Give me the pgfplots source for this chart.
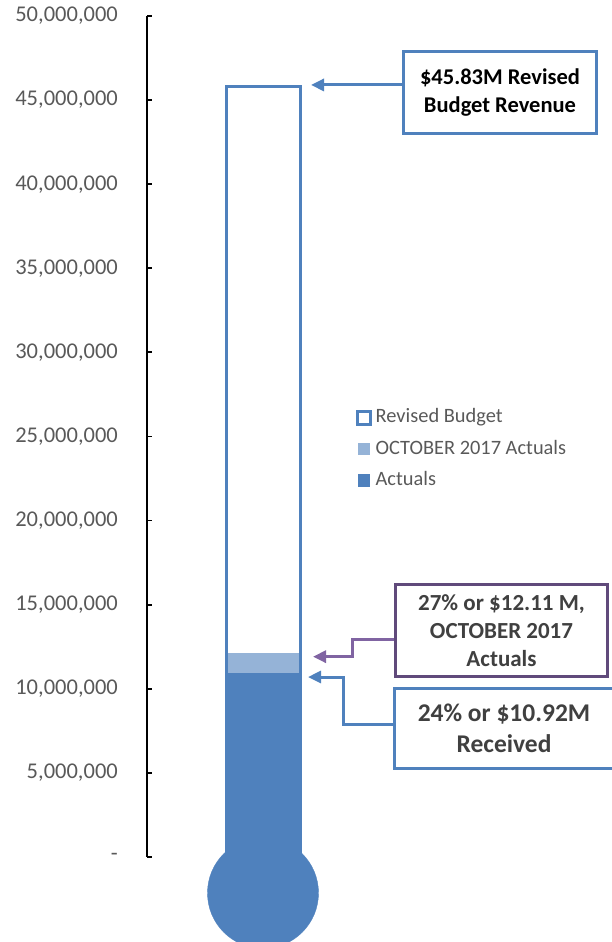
\documentclass[border=0pt]{standalone}
\usepackage{fontspec}
\setmainfont{Carlito}
\usepackage{pgfplots}
\pgfplotsset{compat=1.18}
\usetikzlibrary{arrows.meta}
\definecolor{barblue}{HTML}{4F81BD}
\definecolor{lightblue}{HTML}{95B3D7}
\definecolor{purpleline}{HTML}{8064A2}
\definecolor{purplebox}{HTML}{604A7B}
\definecolor{ticktext}{HTML}{595959}
\definecolor{boxtext}{HTML}{404040}

\begin{document}
\begin{tikzpicture}[x=1pt,y=1pt]
\begin{axis}[
  at={(147pt,85pt)}, anchor=south west,
  scale only axis, width=464pt, height=841pt,
  xmin=-116, xmax=348, ymin=0, ymax=50000000,
  axis x line=none, axis y line*=left,
  y axis line style={black, line width=1.8pt},
  xtick=\empty,
  ytick={0,5000000,10000000,15000000,20000000,25000000,30000000,35000000,40000000,45000000,50000000},
  yticklabels={{-\hspace{12pt}},{5,000,000},{10,000,000},{15,000,000},{20,000,000},{25,000,000},{30,000,000},{35,000,000},{40,000,000},{45,000,000},{50,000,000}},
  tick align=inside, major tick length=5pt,
  tick style={black, line width=1.8pt},
  yticklabel style={font=\fontsize{22.5}{27}\selectfont, text=ticktext, anchor=east, inner sep=0pt, xshift=-29pt},
  clip=false,
  legend style={at={(axis description cs:0.4504,0.533)}, anchor=north west,
    draw=none, fill=none, inner sep=0pt, row sep=12.2pt,
    font=\fontsize{20.4}{24}\selectfont, text=ticktext,
    nodes={inner sep=0pt, text height=14pt, text depth=5pt}},
  legend cell align=left,
]
% thermometer bars, overlaid at one position
\addplot[ybar, bar width=74pt, bar shift=0pt, fill=white, draw=barblue, line width=3pt,
  legend image code/.code={\draw[draw=barblue, fill=white, line width=2.6pt] (1.3pt,-6.3pt) rectangle (14.5pt,6.9pt); \path (18pt,0pt);}]
  coordinates {(0,45830000)};
\addplot[ybar, bar width=71pt, bar shift=0pt, fill=lightblue, draw=none,
  legend image code/.code={\fill[lightblue] (2pt,-5.8pt) rectangle (14pt,6.6pt); \path (18pt,0pt);}]
  coordinates {(0,12110000)};
\addplot[ybar, bar width=74pt, bar shift=0pt, fill=barblue, draw=none,
  legend image code/.code={\fill[barblue] (2pt,-5.8pt) rectangle (14pt,6.6pt); \path (18pt,0pt);}]
  coordinates {(0,10920000)};
% bulb
\addplot[forget plot, only marks, mark=*, mark size=55.5pt, mark options={draw=barblue, fill=barblue}]
  coordinates {(0,-2140000)};
\legend{Revised Budget, OCTOBER 2017 Actuals, Actuals}

% callouts
\draw[barblue, line width=3pt, -{Triangle[length=13pt,width=12pt]}]
  (axis cs:139,45900000) -- (axis cs:48,45900000);
\node[draw=barblue, line width=3pt, fill=white, minimum width=193pt, minimum height=82pt,
  inner sep=0pt, align=center, font=\bfseries\fontsize{22.5}{27.5}\selectfont]
  at (axis cs:237,45450000) {\raisebox{-2pt}{\$45.83M Revised}\\\raisebox{-2pt}{Budget Revenue}};

\draw[purpleline, line width=3pt, -{Triangle[length=13pt,width=12pt]}]
  (axis cs:131,12960000) -- (axis cs:89,12960000) -- (axis cs:89,11910000) -- (axis cs:50,11910000);
\node[draw=purplebox, line width=3pt, fill=white, minimum width=212pt, minimum height=92pt,
  inner sep=0pt, align=center, text=boxtext, font=\bfseries\fontsize{23}{28}\selectfont]
  at (axis cs:238.5,13466000) {27\% or \$12.11 M,\\OCTOBER 2017\\Actuals};

\draw[barblue, line width=3pt, -{Triangle[length=13pt,width=12pt]}]
  (axis cs:130,7848000) -- (axis cs:80,7848000) -- (axis cs:80,10700000) -- (axis cs:45,10700000);
\node[draw=barblue, line width=3pt, fill=white, minimum width=219pt, minimum height=80pt,
  inner sep=0pt, align=center, text=boxtext, font=\bfseries\fontsize{25.5}{30.5}\selectfont]
  at (axis cs:241,7640000) {24\% or \$10.92M\\Received};
\end{axis}
\pgfresetboundingbox
\path[use as bounding box] (0,0) rectangle (611,942);
\end{tikzpicture}
\end{document}
